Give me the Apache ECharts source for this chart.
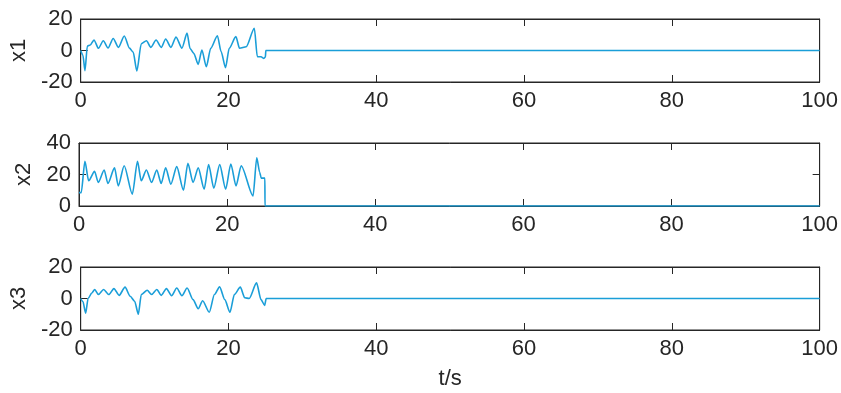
<!DOCTYPE html>
<html>
<head>
<meta charset="utf-8">
<script src="https://cdn.jsdelivr.net/npm/echarts@6/dist/echarts.min.js"></script>
<style>html,body{margin:0;padding:0;background:#fff}#c{width:841px;height:393px}</style>
</head>
<body>
<div id="c"></div>
<script>
// time stamps (s) and values for each state
const t1 = [0,0.3,0.58,0.9,1.3,1.8,2.4,3.06,3.7,4.4,5.1,5.9,6.6,7.1,7.6,8.2,8.9,9.5,10.2,10.9,11.5,12.2,12.9,13.7,14.4,14.8,15.3,15.9,16.4,17.0,17.6,18.5,19.0,19.6,20.1,21.0,21.5,22.4,23.5,23.9,24.4,24.8,25.0,25.05,100];
const x1 = [0,-3,-12.8,2.9,3.5,6.7,1.4,6.2,1.6,7.6,2,9.2,1.5,-1,-13,4.3,6.2,2,6.7,2,7.3,2,8.5,1.5,11,1.3,-1.8,-8.8,0.3,-10.3,1.4,9.4,-0.7,-10.9,1.4,8.8,1.4,2.4,14.1,-3.9,-4,-5,-4,0,0];

const t2 = [0,0.3,0.8,1.3,2.1,2.6,3.4,3.9,4.8,5.3,6.1,7.2,7.9,8.4,9.1,9.8,10.5,11.1,11.7,12.4,13.2,14.1,14.7,15.4,16.1,16.9,17.5,18.2,19.0,19.8,20.5,21.2,21.9,23.5,24.0,24.4,24.6,25.1,25.11,100];
const x2 = [8.5,8.5,28.4,16,22,15,22.9,14.3,24.2,12.8,25.6,7.5,28.4,16,22.9,15,22.9,14.3,24.2,13.9,25,10,27.1,15,24.2,10.7,26.3,11.3,26.3,10.7,26.7,12.8,25.6,6.4,30.6,21.4,17.7,17.7,0,0];

const t3 = [0,0.3,0.67,1.0,1.5,1.9,2.4,3.1,3.8,4.5,5.2,6.0,6.7,7.3,7.8,8.2,9.0,9.6,10.3,10.9,11.6,12.3,13.0,13.7,14.4,15.2,15.9,16.5,17.4,18.1,18.8,19.5,20.2,20.8,21.6,22.2,22.8,23.8,24.4,24.9,25.1,100];
const x3 = [0,-2,-9.3,0,3.5,5.7,2.5,5.7,2.5,6.3,2,7.2,1.4,-1.8,-10,2.5,5.2,2.5,5.7,2,6.3,1.8,6.7,1.8,6.7,-0.7,-6.5,-1.4,-8.7,2.5,7.4,-0.7,-8.7,2.5,7.2,0.5,0,9.9,-0.7,-4.4,0,0];

const xTicks = [0,20,40,60,80,100];
const yLabels = ['x1','x2','x3'];
const yRanges = [[-20,20],[0,40],[-20,20]];

const ink = '#262626';
const font = 'Helvetica, Arial, "Liberation Sans", sans-serif';
const lineColor = '#1a9ed8';
const tops = [19,143,267];
const plotH = 63;

const grids = [], xAxes = [], yAxes = [], series = [];
const datasets = [[t1,x1],[t2,x2],[t3,x3]];

tops.forEach((top,i)=>{
  grids.push({left:79,right:21,top:top,height:plotH,show:true,borderColor:ink,borderWidth:1,backgroundColor:'#fff'});
  const xBase = {gridIndex:i,type:'value',min:xTicks[0],max:xTicks[xTicks.length-1],interval:20,
    axisLine:{show:true,onZero:false,lineStyle:{color:ink,width:1}},
    axisTick:{show:true,inside:true,length:7,lineStyle:{color:ink}},
    splitLine:{show:false}};
  xAxes.push(Object.assign({},xBase,{position:'bottom',
    axisLabel:{show:true,color:ink,fontSize:22,fontFamily:font,margin:8},
    name: i===2 ? 't/s' : '', nameLocation:'middle', nameGap:38,
    nameTextStyle:{color:ink,fontSize:22,fontFamily:font}}));
  xAxes.push(Object.assign({},xBase,{position:'top',axisLabel:{show:false}}));
  const yBase = {gridIndex:i,type:'value',min:yRanges[i][0],max:yRanges[i][1],interval:20,
    axisLine:{show:true,onZero:false,lineStyle:{color:ink,width:1}},
    axisTick:{show:true,inside:true,length:7,lineStyle:{color:ink}},
    splitLine:{show:false}};
  yAxes.push(Object.assign({},yBase,{position:'left',
    axisLabel:{show:true,color:ink,fontSize:22,fontFamily:font,margin:8},
    name:yLabels[i],nameLocation:'middle',nameGap:44,nameRotate:90,
    nameTextStyle:{color:ink,fontSize:22,fontFamily:font}}));
  yAxes.push(Object.assign({},yBase,{position:'right',axisLabel:{show:false}}));
  const [tt,vv] = datasets[i];
  series.push({type:'line',xAxisIndex:2*i,yAxisIndex:2*i,showSymbol:false,symbol:'none',
    smooth:0.25,smoothMonotone:'x',
    lineStyle:{color:lineColor,width:1.6},
    data:tt.map((t,k)=>[t,vv[k]]),animation:false});
});

const chart = echarts.init(document.getElementById('c'),null,{renderer:'canvas'});
chart.setOption({animation:false,backgroundColor:'#fff',grid:grids,xAxis:xAxes,yAxis:yAxes,series:series});
</script>
</body>
</html>
